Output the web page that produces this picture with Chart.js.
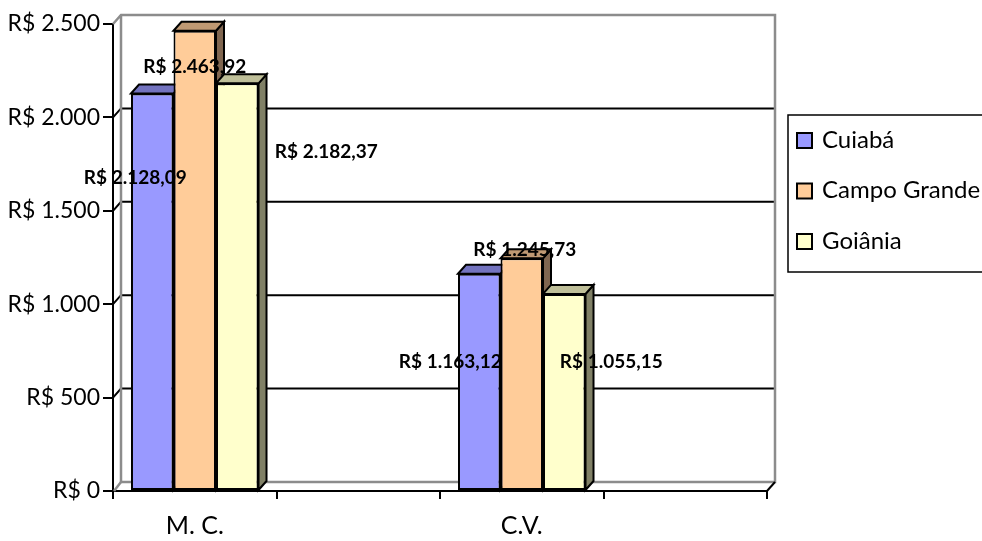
<!DOCTYPE html>
<html>
<head>
<meta charset="utf-8">
<script src="https://cdn.jsdelivr.net/npm/chart.js@4/dist/chart.umd.min.js"></script>
<style>
  html, body { margin: 0; padding: 0; background: #fff; }
  #wrap { width: 982px; height: 541px; position: relative; }
</style>
</head>
<body>
<div id="wrap"><canvas id="chart"></canvas></div>
<script>
// Categories and series values (R$)
const categories = ['M. C.', 'C.V.'];
const seriesNames = ['Cuiabá', 'Campo Grande', 'Goiânia'];
const cuiaba = [2128.09, 1163.12];
const campoGrande = [2463.92, 1245.73];
const goiania = [2182.37, 1055.15];
const yTicks = [0, 500, 1000, 1500, 2000, 2500];

// Each category is followed by an empty slot, so the x axis carries
// tick marks between the groups as well as around them.
const slotLabels = categories.flatMap(c => [c, '']);
const toSlots = vals => vals.flatMap(v => [v, null]);

const FONT = 'Lato, "Open Sans", sans-serif';
const DEPTH = { dx: 8, dy: -9 };

const palette = [
  { front: '#9999FF', top: '#7373BF', side: '#4D4D80' },
  { front: '#FFCC99', top: '#BF9973', side: '#806650' },
  { front: '#FFFFCC', top: '#BFBF99', side: '#808066' }
];

// Label placement relative to the top centre of each bar's front face
const labelShift = [
  [[-17, 84], [-29, 88]],
  [[0, 36], [3, -8]],
  [[89, 69], [47, 68]]
];

function brl(v, decimals) {
  const parts = Number(v).toFixed(decimals).split('.');
  const intPart = parts[0].replace(/\B(?=(\d{3})+(?!\d))/g, '.');
  return 'R$ ' + intPart + (parts[1] ? ',' + parts[1] : '');
}

function poly(ctx, pts, fill) {
  ctx.beginPath();
  ctx.moveTo(pts[0][0], pts[0][1]);
  for (let i = 1; i < pts.length; i++) ctx.lineTo(pts[i][0], pts[i][1]);
  ctx.closePath();
  ctx.fillStyle = fill;
  ctx.fill();
  ctx.stroke();
}

// Back wall, side wall, floor and the gridlines on the back wall
const wallPlugin = {
  id: 'wall3d',
  beforeDatasetsDraw(chart) {
    const { ctx, chartArea: a, scales: { y } } = chart;
    const { dx, dy } = DEPTH;
    const top = y.getPixelForValue(y.max);
    const bottom = y.getPixelForValue(0);
    ctx.save();
    ctx.lineJoin = 'miter';
    // gridlines
    ctx.strokeStyle = '#000';
    ctx.lineWidth = 2;
    y.ticks.forEach(t => {
      if (t.value === 0 || t.value === y.max) return;
      const py = y.getPixelForValue(t.value);
      ctx.beginPath();
      ctx.moveTo(a.left, py);
      ctx.lineTo(a.left + dx, py + dy);
      ctx.lineTo(a.right + dx, py + dy);
      ctx.stroke();
    });
    // wall edges
    ctx.strokeStyle = '#8c8c8c';
    ctx.lineWidth = 2.5;
    ctx.beginPath();
    ctx.moveTo(a.left, top);
    ctx.lineTo(a.left + dx, top + dy);
    ctx.lineTo(a.right + dx, top + dy);
    ctx.lineTo(a.right + dx, bottom + dy);
    ctx.lineTo(a.left + dx, bottom + dy);
    ctx.lineTo(a.left + dx, top + dy);
    ctx.stroke();
    ctx.beginPath();
    ctx.moveTo(a.left + 1, bottom);
    ctx.lineTo(a.left + dx, bottom + dy);
    ctx.stroke();
    // right floor corner
    ctx.strokeStyle = '#000';
    ctx.lineWidth = 2;
    ctx.beginPath();
    ctx.moveTo(a.right, bottom);
    ctx.lineTo(a.right + dx, bottom + dy);
    ctx.stroke();
    ctx.restore();
  }
};

// Depth faces of the columns: right sides, then tops; the fronts are the bars
const columnPlugin = {
  id: 'column3d',
  beforeDatasetsDraw(chart) {
    const { ctx } = chart;
    const { dx, dy } = DEPTH;
    const bars = [];
    chart.data.datasets.forEach((ds, i) => {
      const meta = chart.getDatasetMeta(i);
      meta.data.forEach((el, j) => {
        if (ds.data[j] == null) return;
        const p = el.getProps(['x', 'y', 'base', 'width'], true);
        bars.push({ i, l: p.x - p.width / 2, r: p.x + p.width / 2, t: p.y, b: p.base });
      });
    });
    ctx.save();
    ctx.strokeStyle = '#000';
    ctx.lineWidth = 2;
    ctx.lineJoin = 'miter';
    bars.forEach(b => poly(ctx, [[b.r, b.t], [b.r + dx, b.t + dy], [b.r + dx, b.b + dy], [b.r, b.b]], palette[b.i].side));
    bars.forEach(b => poly(ctx, [[b.l, b.t], [b.l + dx, b.t + dy], [b.r + dx, b.t + dy], [b.r, b.t]], palette[b.i].top));
    ctx.restore();
  },
  afterDatasetsDraw(chart) {
    const { ctx } = chart;
    ctx.save();
    ctx.font = 'bold 19px ' + FONT;
    ctx.fillStyle = '#000';
    ctx.textAlign = 'center';
    ctx.textBaseline = 'middle';
    chart.data.datasets.forEach((ds, i) => {
      const meta = chart.getDatasetMeta(i);
      let k = 0;
      meta.data.forEach((el, j) => {
        if (ds.data[j] == null) return;
        const s = labelShift[i][k++];
        ctx.fillText(brl(ds.data[j], 2), el.x + s[0], el.y + s[1]);
      });
    });
    ctx.restore();
  }
};

// Boxed legend to the right of the plot
const boxLegendPlugin = {
  id: 'boxLegend',
  afterDraw(chart) {
    const { ctx, chartArea: a } = chart;
    const left = a.right + 21;
    const top = 115;
    const rowGap = 50.5;
    ctx.save();
    ctx.strokeStyle = '#000';
    ctx.lineWidth = 1.5;
    ctx.strokeRect(left, top, 260, 157);
    ctx.font = '24px ' + FONT;
    ctx.textBaseline = 'middle';
    ctx.textAlign = 'left';
    chart.data.datasets.forEach((ds, i) => {
      const cy = top + 25 + i * rowGap;
      ctx.fillStyle = ds.backgroundColor;
      ctx.fillRect(left + 9, cy - 7, 15, 15);
      ctx.lineWidth = 2;
      ctx.strokeRect(left + 9, cy - 7, 15, 15);
      ctx.fillStyle = '#000';
      ctx.fillText(ds.label, left + 34, cy);
    });
    ctx.restore();
  }
};

const seriesValues = [cuiaba, campoGrande, goiania];

new Chart(document.getElementById('chart'), {
  type: 'bar',
  data: {
    labels: slotLabels,
    datasets: seriesNames.map((name, i) => ({
      label: name,
      data: toSlots(seriesValues[i]),
      backgroundColor: palette[i].front,
      borderColor: '#000',
      borderWidth: 2,
      borderSkipped: false
    }))
  },
  options: {
    responsive: true,
    maintainAspectRatio: false,
    animation: false,
    layout: { padding: { top: 24, right: 215, left: 0, bottom: 0 } },
    datasets: { bar: { categoryPercentage: 0.78, barPercentage: 1 } },
    plugins: { legend: { display: false }, tooltip: { enabled: false } },
    scales: {
      x: {
        grid: { offset: true, drawOnChartArea: false, drawTicks: true, tickLength: 8, color: '#000', lineWidth: 2 },
        border: { display: true, color: '#000', width: 2 },
        ticks: { color: '#000', font: { family: FONT, size: 25 }, padding: 12, maxRotation: 0, autoSkip: false },
        afterFit(s) { s.height = 50; }
      },
      y: {
        min: 0,
        max: 2500,
        afterBuildTicks(s) { s.ticks = yTicks.map(v => ({ value: v })); },
        grid: { drawOnChartArea: false, drawTicks: true, tickLength: 10, color: '#000', lineWidth: 2 },
        border: { display: true, color: '#000', width: 2 },
        ticks: { color: '#000', font: { family: FONT, size: 23 }, padding: 3, callback: v => brl(v, 0) },
        afterFit(s) { s.width = 113; }
      }
    }
  },
  plugins: [wallPlugin, columnPlugin, boxLegendPlugin]
});
</script>
</body>
</html>
